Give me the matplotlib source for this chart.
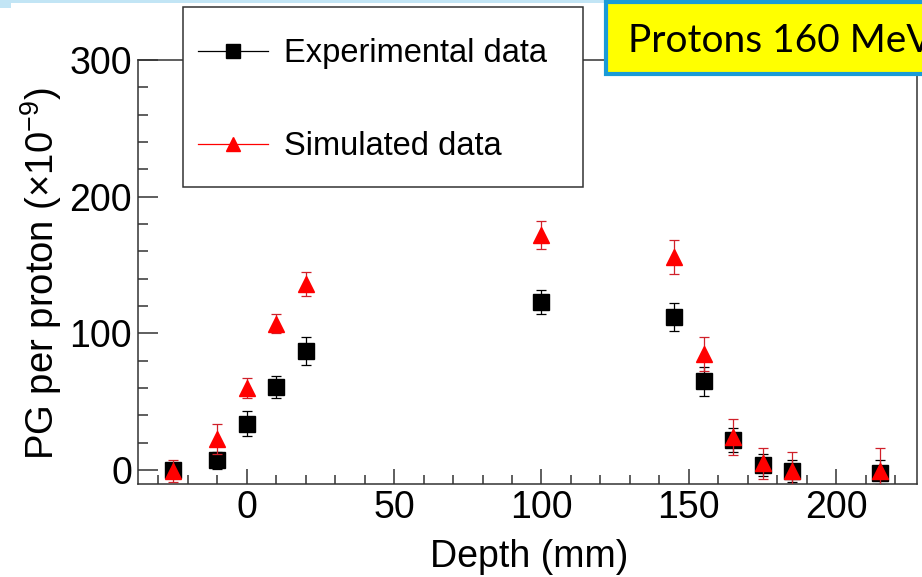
import matplotlib.pyplot as plt
from matplotlib.lines import Line2D
from matplotlib.patches import Rectangle
from matplotlib.ticker import MultipleLocator

plt.rcParams['font.family'] = ['Liberation Sans', 'DejaVu Sans']

# data
depth = [-25, -10, 0, 10, 20, 100, 145, 155, 165, 175, 185, 215]
exp_pg = [0, 7, 34, 61, 87, 123, 112, 65, 22, 4, -1, -2]
exp_err = [5, 6, 9, 8, 10.5, 9, 10, 10.5, 9, 8, 8, 9]
sim_pg = [-1, 23, 60, 107, 136, 172, 156, 85, 24, 5, -1, -1]
sim_err = [8, 11, 7.5, 7, 9, 10, 12.5, 12.5, 13, 11.5, 14, 17]
labels = ['Experimental data', 'Simulated data']

W, H = 922, 577
fig = plt.figure(figsize=(W / 100, H / 100), dpi=100)
ax = fig.add_axes([137.7 / W, 1 - 484 / H, (916.7 - 137.7) / W, (484 - 60) / H])

ax.errorbar(depth, exp_pg, yerr=exp_err, fmt='s', color='black', ms=11.5,
            elinewidth=0.9, capsize=3.5, capthick=0.9, zorder=3)
ax.errorbar(depth, sim_pg, yerr=sim_err, fmt='^', color='red', ecolor='#d0202a',
            ms=11.5, elinewidth=0.9, capsize=3.5, capthick=0.9, zorder=4)

ax.set_xlim(-37, 227.3)
ax.set_ylim(-10.2, 300)
ax.xaxis.set_major_locator(MultipleLocator(50))
ax.xaxis.set_minor_locator(MultipleLocator(10))
ax.yaxis.set_major_locator(MultipleLocator(100))
ax.yaxis.set_minor_locator(MultipleLocator(20))

for s in ax.spines.values():
    s.set_color('#333333')
    s.set_linewidth(1.1)
ax.tick_params(axis='both', which='both', direction='in', color='#333333',
               width=1.1, labelsize=27)
ax.tick_params(axis='y', which='major', length=14.4, pad=4)
ax.tick_params(axis='y', which='minor', length=7.2)
ax.tick_params(axis='x', which='major', length=10.8, pad=4)
ax.tick_params(axis='x', which='minor', length=6.3)

# axis titles (ROOT style, right aligned at axis end)
fig.text(628 / W, 1 - 567 / H, 'Depth (mm)', ha='right', va='baseline', fontsize=27)
fig.text(18 / W, 1 - 87 / H, r'PG per proton (×10$^{\mathregular{-9}}$)',
         rotation=90, ha='left', va='top', fontsize=27.5)

# legend box drawn separately so the entries can sit like ROOT's TLegend
fig.add_artist(Rectangle((183.3 / W, 1 - 187 / H), 400 / W, 180 / H,
                         transform=fig.transFigure, facecolor='white',
                         edgecolor='#333333', lw=1.1))
handles = [
    Line2D([], [], color='black', lw=0.9, marker='s', ms=9.5),
    Line2D([], [], color='red', lw=0.9, marker='^', ms=10.5),
]
fig.legend(handles, labels, loc='upper left', bbox_to_anchor=(198 / W, 1 - 38 / H),
           fontsize=23.5, frameon=False, borderpad=0, borderaxespad=0,
           labelspacing=1.9, handlelength=2.15, handletextpad=0.5)

# slide decorations
fig.add_artist(Rectangle((0, 1 - 3 / H), 1, 3 / H, transform=fig.transFigure,
                         color='#c2e5f5', lw=0))
fig.add_artist(Rectangle((0, 1 - 8 / H), 11 / W, 8 / H, transform=fig.transFigure,
                         color='#c2e5f5', lw=0))
fig.add_artist(Rectangle((606 / W, 1 - 74 / H), 400 / W, 72 / H,
                         transform=fig.transFigure, facecolor='#ffff00',
                         edgecolor='#1a9bd7', lw=3, clip_on=False))
fig.text(627.7 / W, 1 - 52 / H, 'Protons 160 MeV', ha='left', va='baseline',
         fontsize=28, family=['Lato', 'DejaVu Sans'])

fig.savefig('out.png', dpi=100)
